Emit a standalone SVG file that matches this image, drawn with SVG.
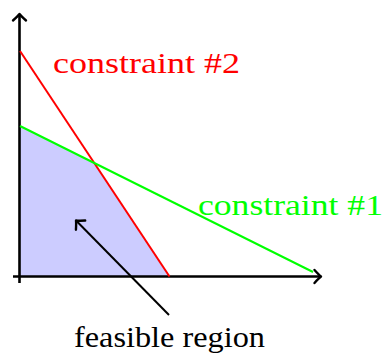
<svg xmlns="http://www.w3.org/2000/svg" width="384" height="354" viewBox="0 0 384 354">
<style>
.lbl{font-family:"Liberation Serif","Times New Roman",serif;font-size:30px}
.axis{stroke:#000;stroke-width:2.6;fill:none}
</style>
<defs>
<marker id="ah" markerUnits="userSpaceOnUse" markerWidth="20" markerHeight="20" viewBox="-10 -10 20 20" refX="0" refY="0" orient="auto">
<path d="M -6.5 -6.5 Q -2 -1.5 0 0 Q -2 1.5 -6.5 6.5" fill="none" stroke="#000" stroke-width="2.4" stroke-linecap="round" stroke-linejoin="round"/>
</marker>
</defs>
<g id="region">
<polygon points="20,126 95,163 169,276.5 20,276.5" fill="#ccccff"/>
</g>
<g id="axes">
<line class="axis" x1="19.5" y1="283" x2="19.5" y2="14" marker-end="url(#ah)"/>
<line class="axis" x1="13" y1="276.5" x2="321" y2="276.5" marker-end="url(#ah)"/>
</g>
<g id="constraints">
<line x1="20" y1="51" x2="169.5" y2="276.5" stroke="#ff0000" stroke-width="2"/>
<line x1="20" y1="126" x2="313" y2="272" stroke="#00ff00" stroke-width="2"/>
</g>
<g id="connectors">
<line x1="169" y1="315" x2="76" y2="220.5" stroke="#000" stroke-width="2" marker-end="url(#ah)"/>
</g>
<g id="label-c2"><text class="lbl" x="53" y="73" fill="#ff0000" textLength="187" lengthAdjust="spacingAndGlyphs">constraint #2</text></g>
<g id="label-c1"><text class="lbl" x="198" y="215" fill="#00ff00" textLength="185" lengthAdjust="spacingAndGlyphs">constraint #1</text></g>
<g id="label-feasible"><text class="lbl" x="74" y="346.5" fill="#000" textLength="191" lengthAdjust="spacingAndGlyphs">feasible region</text></g>
</svg>
